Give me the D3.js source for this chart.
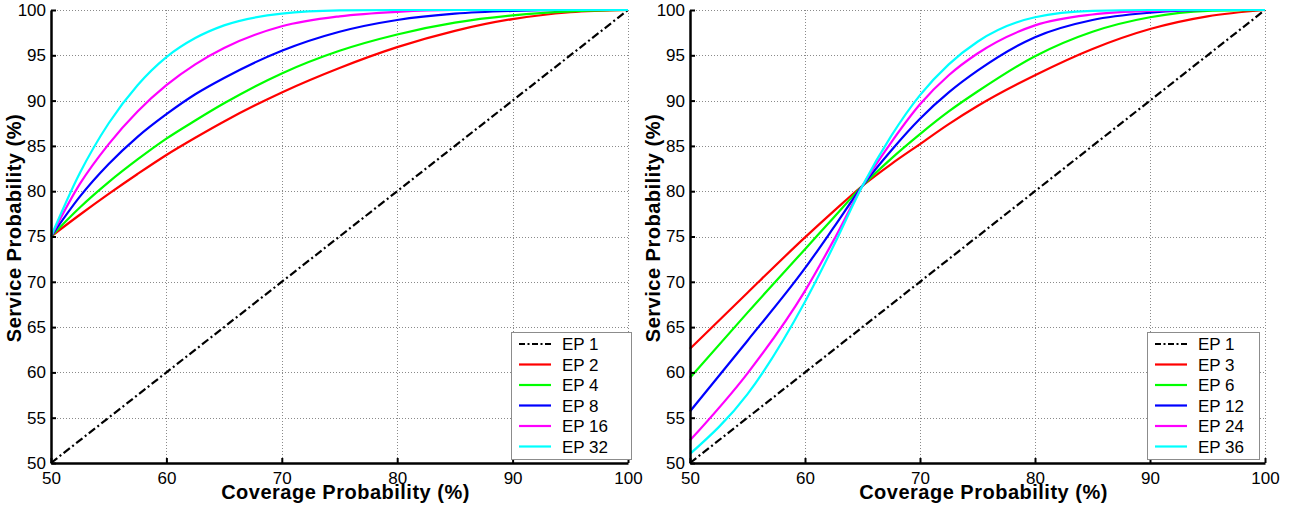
<!DOCTYPE html>
<html>
<head>
<meta charset="utf-8">
<script src="https://cdn.jsdelivr.net/npm/d3@7"></script>
<style>
  body { margin: 0; background: #fff; }
  svg { display: block; font-family: "Liberation Sans", Arial, Helvetica, sans-serif; }
</style>
</head>
<body>
<svg id="chart" width="1293" height="506"></svg>
<script>
// ---- data -------------------------------------------------------------
// Coverage probability (%) sample points
const coverageA = [50, 52.5, 55, 57.5, 60, 62.5, 65, 70, 75, 80, 85, 90, 95, 100];
const coverageB = [50, 55, 60, 62.5, 65, 67.5, 70, 72.5, 75, 80, 85, 90, 95, 100];
const reference = [50, 100];           // EP 1: service = coverage

// Service probability (%) — first set
const ep2  = [75, 77.4, 79.7, 81.9, 84.0, 85.9, 87.7, 90.9, 93.6, 95.9, 97.7, 99.0, 99.75, 100];
const ep4  = [75, 78.2, 81.0, 83.5, 85.8, 87.8, 89.7, 93.0, 95.5, 97.3, 98.6, 99.4, 99.85, 100];
const ep8  = [75, 79.4, 83.0, 86.0, 88.5, 90.7, 92.5, 95.5, 97.6, 98.9, 99.6, 99.9, 100, 100];
const ep16 = [75, 80.8, 85.2, 88.8, 91.7, 94.0, 95.8, 98.2, 99.3, 99.8, 100, 100, 100, 100];
const ep32 = [75, 82.0, 87.5, 91.7, 94.8, 96.9, 98.3, 99.6, 99.95, 100, 100, 100, 100, 100];

// Service probability (%) — second set
const ep3  = [62.6, 68.8, 74.9, 77.8, 80.6, 83.0, 85.2, 87.4, 89.4, 92.8, 95.7, 97.9, 99.3, 100];
const ep6  = [59.4, 66.6, 73.6, 77.1, 80.6, 83.6, 86.3, 88.8, 91.0, 94.9, 97.6, 99.2, 99.9, 100];
const ep12 = [55.7, 63.5, 71.5, 76.0, 80.6, 84.5, 88.0, 90.9, 93.3, 97.0, 98.9, 99.7, 100, 100];
const ep24 = [52.5, 59.9, 69.0, 74.6, 80.6, 85.4, 89.6, 92.8, 95.2, 98.3, 99.5, 99.9, 100, 100];
const ep36 = [51.0, 57.6, 67.8, 74.0, 80.6, 86.1, 90.6, 94.0, 96.5, 99.2, 99.9, 100, 100, 100];

const xTicks = [50, 60, 70, 80, 90, 100];
const yTicks = [50, 55, 60, 65, 70, 75, 80, 85, 90, 95, 100];
const xTitle = "Coverage Probability (%)";
const yTitle = "Service Probability (%)";

const panels = [
  {
    left: 51, right: 628, legendX: 511, legendW: 120,
    series: [
      { name: "EP 1",  x: reference, y: reference, color: "#000", dash: true },
      { name: "EP 2",  x: coverageA, y: ep2,  color: "#ff0000" },
      { name: "EP 4",  x: coverageA, y: ep4,  color: "#00ff00" },
      { name: "EP 8",  x: coverageA, y: ep8,  color: "#0000ff" },
      { name: "EP 16", x: coverageA, y: ep16, color: "#ff00ff" },
      { name: "EP 32", x: coverageA, y: ep32, color: "#00ffff" }
    ]
  },
  {
    left: 690, right: 1265, legendX: 1147, legendW: 112,
    series: [
      { name: "EP 1",  x: reference, y: reference, color: "#000", dash: true },
      { name: "EP 3",  x: coverageB, y: ep3,  color: "#ff0000" },
      { name: "EP 6",  x: coverageB, y: ep6,  color: "#00ff00" },
      { name: "EP 12", x: coverageB, y: ep12, color: "#0000ff" },
      { name: "EP 24", x: coverageB, y: ep24, color: "#ff00ff" },
      { name: "EP 36", x: coverageB, y: ep36, color: "#00ffff" }
    ]
  }
];

// ---- drawing ----------------------------------------------------------
const svg = d3.select("#chart");
const plotTop = 10, plotBottom = 463;
const dashDot = "8,3,2,3";

panels.forEach(p => {
  const x = d3.scaleLinear().domain([50, 100]).range([p.left, p.right]);
  const y = d3.scaleLinear().domain([50, 100]).range([plotBottom, plotTop]);
  const g = svg.append("g");

  // dotted grid
  const grid = g.append("g").attr("stroke", "#8a8a8a").attr("stroke-width", 1)
    .attr("stroke-dasharray", "1,2");
  grid.selectAll("line.v").data(xTicks.slice(1)).join("line").attr("class", "v")
    .attr("x1", d => Math.round(x(d)) + 0.5).attr("x2", d => Math.round(x(d)) + 0.5)
    .attr("y1", plotTop).attr("y2", plotBottom);
  grid.selectAll("line.h").data(yTicks.slice(1)).join("line").attr("class", "h")
    .attr("x1", p.left).attr("x2", p.right)
    .attr("y1", d => Math.round(y(d)) + 0.5).attr("y2", d => Math.round(y(d)) + 0.5);

  // curves
  const line = d3.line().curve(d3.curveMonotoneX);
  p.series.forEach(s => {
    g.append("path")
      .attr("d", line(s.x.map((v, i) => [x(v), y(s.y[i])])))
      .attr("fill", "none")
      .attr("stroke", s.color)
      .attr("stroke-width", 2.2)
      .attr("stroke-dasharray", s.dash ? dashDot : null);
  });

  // axes (inward ticks)
  const xAxis = d3.axisBottom(x).tickValues(xTicks).tickSizeInner(-5).tickSizeOuter(0)
    .tickPadding(9).tickFormat(d3.format("d"));
  const yAxis = d3.axisLeft(y).tickValues(yTicks).tickSizeInner(-5).tickSizeOuter(0)
    .tickPadding(5).tickFormat(d3.format("d"));

  const ax = g.append("g").attr("transform", `translate(0,${plotBottom})`).call(xAxis);
  const ay = g.append("g").attr("transform", `translate(${p.left},0)`).call(yAxis);
  [ax, ay].forEach(a => {
    a.select(".domain").attr("stroke", "#000").attr("stroke-width", 2.5);
    a.selectAll(".tick line").attr("stroke", "#000").attr("stroke-width", 2);
    a.selectAll(".tick text").attr("fill", "#000").style("font-size", "17px")
      .style("font-family", "'Liberation Sans', Arial, sans-serif");
  });

  // axis titles
  g.append("text")
    .attr("x", (p.left + p.right) / 2 + 6).attr("y", 499)
    .attr("text-anchor", "middle")
    .style("font-size", "20px").style("font-weight", "bold").style("letter-spacing", "0.5px")
    .text(xTitle);
  g.append("text")
    .attr("transform", `translate(${p.left - 30},228) rotate(-90)`)
    .attr("text-anchor", "middle")
    .style("font-size", "20px").style("font-weight", "bold").style("letter-spacing", "0.5px")
    .text(yTitle);

  // legend
  const lg = g.append("g");
  lg.append("rect")
    .attr("x", p.legendX + 0.5).attr("y", 332.5)
    .attr("width", p.legendW).attr("height", 127)
    .attr("fill", "#fff").attr("stroke", "#8c8c8c").attr("stroke-width", 1);
  p.series.forEach((s, i) => {
    const cy = 344 + i * 20.5;
    lg.append("line")
      .attr("x1", p.legendX + 8).attr("x2", p.legendX + 40)
      .attr("y1", cy).attr("y2", cy)
      .attr("stroke", s.color).attr("stroke-width", 2.2)
      .attr("stroke-dasharray", s.dash ? "6,2.5,2,2.5" : null);
    lg.append("text")
      .attr("x", p.legendX + 51).attr("y", cy).attr("dy", "0.36em")
      .style("font-size", "17px")
      .text(s.name);
  });
});
</script>
</body>
</html>
